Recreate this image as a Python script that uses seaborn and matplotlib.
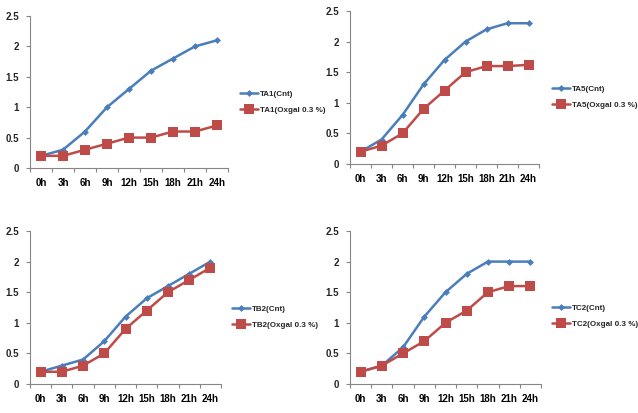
import matplotlib
matplotlib.use("Agg")
import matplotlib.pyplot as plt
import seaborn as sns
import pandas as pd
import numpy as np

hours = ["0h", "3h", "6h", "9h", "12h", "15h", "18h", "21h", "24h"]

ta1_cnt = [0.2, 0.3, 0.6, 1.0, 1.3, 1.6, 1.8, 2.0, 2.1]
ta1_ox = [0.2, 0.2, 0.3, 0.4, 0.5, 0.5, 0.6, 0.6, 0.7]
ta5_cnt = [0.2, 0.4, 0.8, 1.3, 1.7, 2.0, 2.2, 2.3, 2.3]
ta5_ox = [0.2, 0.3, 0.5, 0.9, 1.2, 1.5, 1.6, 1.6, 1.62]
tb2_cnt = [0.2, 0.3, 0.4, 0.7, 1.1, 1.4, 1.6, 1.8, 2.0]
tb2_ox = [0.2, 0.2, 0.3, 0.5, 0.9, 1.2, 1.5, 1.7, 1.9]
tc2_cnt = [0.2, 0.3, 0.6, 1.1, 1.5, 1.8, 2.0, 2.0, 2.0]
tc2_ox = [0.2, 0.3, 0.5, 0.7, 1.0, 1.2, 1.5, 1.6, 1.6]

panels = [
    ("TA1", ta1_cnt, ta1_ox),
    ("TA5", ta5_cnt, ta5_ox),
    ("TB2", tb2_cnt, tb2_ox),
    ("TC2", tc2_cnt, tc2_ox),
]

W, H = 638, 413
# pixel boxes: left, right, top(y=2.5), bottom(y=0)
boxes = [(30, 228, 16, 168), (350, 539, 11, 164), (30, 221, 231, 384), (350, 541, 231, 384)]
leg_pos = [(240, 102), (552, 97), (232, 317), (552, 316)]

sns.set_theme(style="white")
plt.rcParams["font.family"] = ["Liberation Sans", "DejaVu Sans"]
plt.rcParams["font.weight"] = "bold"

BLUE = "#4A7EBB"
RED = "#BE4B48"
AXC = "#868686"

fig = plt.figure(figsize=(W / 100, H / 100), dpi=100)

for (name, cnt, ox), (l, r, t, b), (lx, ly) in zip(panels, boxes, leg_pos):
    ax = fig.add_axes([l / W, 1 - b / H, (r - l) / W, (b - t) / H])
    lab_c = f"{name}(Cnt)"
    lab_o = f"{name}(Oxgal 0.3 %)"
    df = pd.DataFrame({
        "x": list(range(len(hours))) * 2,
        "value": cnt + ox,
        "series": [lab_c] * len(hours) + [lab_o] * len(hours),
    })
    sns.lineplot(data=df, x="x", y="value", hue="series", style="series",
                 palette=[BLUE, RED], markers=["D", "s"], dashes=False,
                 linewidth=1.8, ax=ax, legend=True)
    for ln in ax.get_lines():
        if ln.get_marker() == "s":
            ln.set_markersize(6.5)
        elif ln.get_marker() == "D":
            ln.set_markersize(3.5)
        ln.set_markeredgewidth(0)
    ax.set_xlim(-0.5, len(hours) - 0.5)
    ax.set_ylim(0, 2.5)
    ax.set_yticks([0, 0.5, 1, 1.5, 2, 2.5])
    ax.set_yticklabels(["0", "0.5", "1", "1.5", "2", "2.5"])
    ax.set_xticks(range(len(hours)))
    ax.set_xticklabels(hours)
    ax.set_xticks(np.arange(-0.5, len(hours), 1), minor=True)
    ax.tick_params(axis="x", which="major", length=0, pad=7, labelsize=7, colors="black")
    ax.tick_params(axis="x", which="minor", length=3, width=0.8, color=AXC, direction="out", bottom=True)
    ax.tick_params(axis="y", length=3, width=0.8, color=AXC, direction="out", left=True, labelsize=7, pad=5)
    for lab in ax.get_xticklabels() + ax.get_yticklabels():
        lab.set_fontweight("bold")
    ax.set_xlabel("")
    ax.set_ylabel("")
    for s in ["top", "right"]:
        ax.spines[s].set_visible(False)
    for s in ["left", "bottom"]:
        ax.spines[s].set_color(AXC)
        ax.spines[s].set_linewidth(0.8)
    handles, labels = ax.get_legend_handles_labels()
    leg = ax.legend(handles=handles, labels=labels, loc="center left",
                    bbox_to_anchor=(lx / W, 1 - ly / H), bbox_transform=fig.transFigure,
                    frameon=False, handlelength=2.2, handletextpad=0.3,
                    labelspacing=1.0, borderaxespad=0, borderpad=0,
                    prop={"weight": "bold", "size": 5.8})
    for lh in leg.legend_handles:
        if lh.get_marker() == "s":
            lh.set_markersize(6.5)
        else:
            lh.set_markersize(3.5)
        lh.set_markeredgewidth(0)

fig.savefig("out.png", dpi=100, facecolor="white")
